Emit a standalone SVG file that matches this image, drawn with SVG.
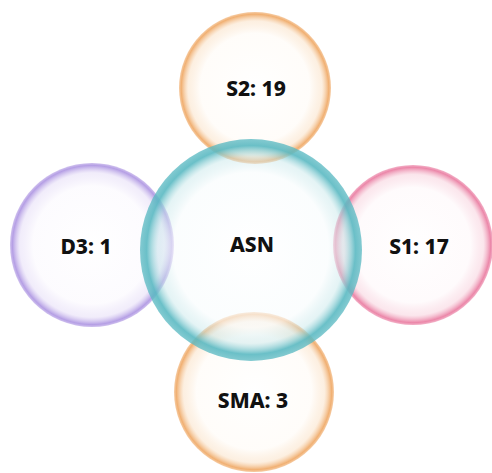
<svg xmlns="http://www.w3.org/2000/svg" width="492" height="473" viewBox="0 0 492 473">
<defs>
<radialGradient id="gOrange" cx="50%" cy="50%" r="50%">
<stop offset="0" stop-color="#ffffff" stop-opacity="0.85"/>
<stop offset="0.72" stop-color="#fffbf6" stop-opacity="0.6"/>
<stop offset="0.88" stop-color="#f9dcbc" stop-opacity="0.45"/>
<stop offset="0.97" stop-color="#eea25a" stop-opacity="0.85"/>
<stop offset="1" stop-color="#eea25a" stop-opacity="0.55"/>
</radialGradient>
<radialGradient id="gPurple" cx="50%" cy="50%" r="50%">
<stop offset="0" stop-color="#ffffff" stop-opacity="0.85"/>
<stop offset="0.72" stop-color="#fbf9fe" stop-opacity="0.6"/>
<stop offset="0.88" stop-color="#e0d6f5" stop-opacity="0.45"/>
<stop offset="0.97" stop-color="#a88ee0" stop-opacity="0.85"/>
<stop offset="1" stop-color="#a88ee0" stop-opacity="0.55"/>
</radialGradient>
<radialGradient id="gPink" cx="50%" cy="50%" r="50%">
<stop offset="0" stop-color="#ffffff" stop-opacity="0.85"/>
<stop offset="0.72" stop-color="#fef8fa" stop-opacity="0.6"/>
<stop offset="0.88" stop-color="#f6c8d6" stop-opacity="0.45"/>
<stop offset="0.97" stop-color="#e8729a" stop-opacity="0.85"/>
<stop offset="1" stop-color="#e8729a" stop-opacity="0.55"/>
</radialGradient>
<radialGradient id="gTeal" cx="50%" cy="50%" r="50%">
<stop offset="0" stop-color="#ffffff" stop-opacity="0.85"/>
<stop offset="0.7" stop-color="#f8fcfd" stop-opacity="0.6"/>
<stop offset="0.84" stop-color="#c4e6e9" stop-opacity="0.45"/>
<stop offset="0.94" stop-color="#5ab9c2" stop-opacity="0.9"/>
<stop offset="1" stop-color="#5ab9c2" stop-opacity="0.75"/>
</radialGradient>
</defs>
<style>
.lbl { font-family: "Noto Sans", "Open Sans", "Liberation Sans", sans-serif; font-weight: 800; font-size: 21px; fill: #111111; text-anchor: middle; dominant-baseline: central; }
</style>
<rect width="492" height="473" fill="#ffffff"/>
<g id="connectors"/>
<g id="node-s2">
<circle cx="255" cy="88" r="76" fill="url(#gOrange)"/>
<text class="lbl" x="256" y="88">S2: 19</text>
</g>
<g id="node-d3">
<circle cx="92" cy="245" r="82" fill="url(#gPurple)"/>
<text class="lbl" x="86" y="246">D3: 1</text>
</g>
<g id="node-s1">
<circle cx="413" cy="245" r="80" fill="url(#gPink)"/>
<text class="lbl" x="419" y="246">S1: 17</text>
</g>
<g id="node-sma">
<circle cx="254" cy="392" r="80" fill="url(#gOrange)"/>
<text class="lbl" x="253" y="400">SMA: 3</text>
</g>
<g id="node-asn">
<circle cx="251" cy="250" r="111" fill="url(#gTeal)"/>
<text class="lbl" x="252" y="244">ASN</text>
</g>
</svg>
